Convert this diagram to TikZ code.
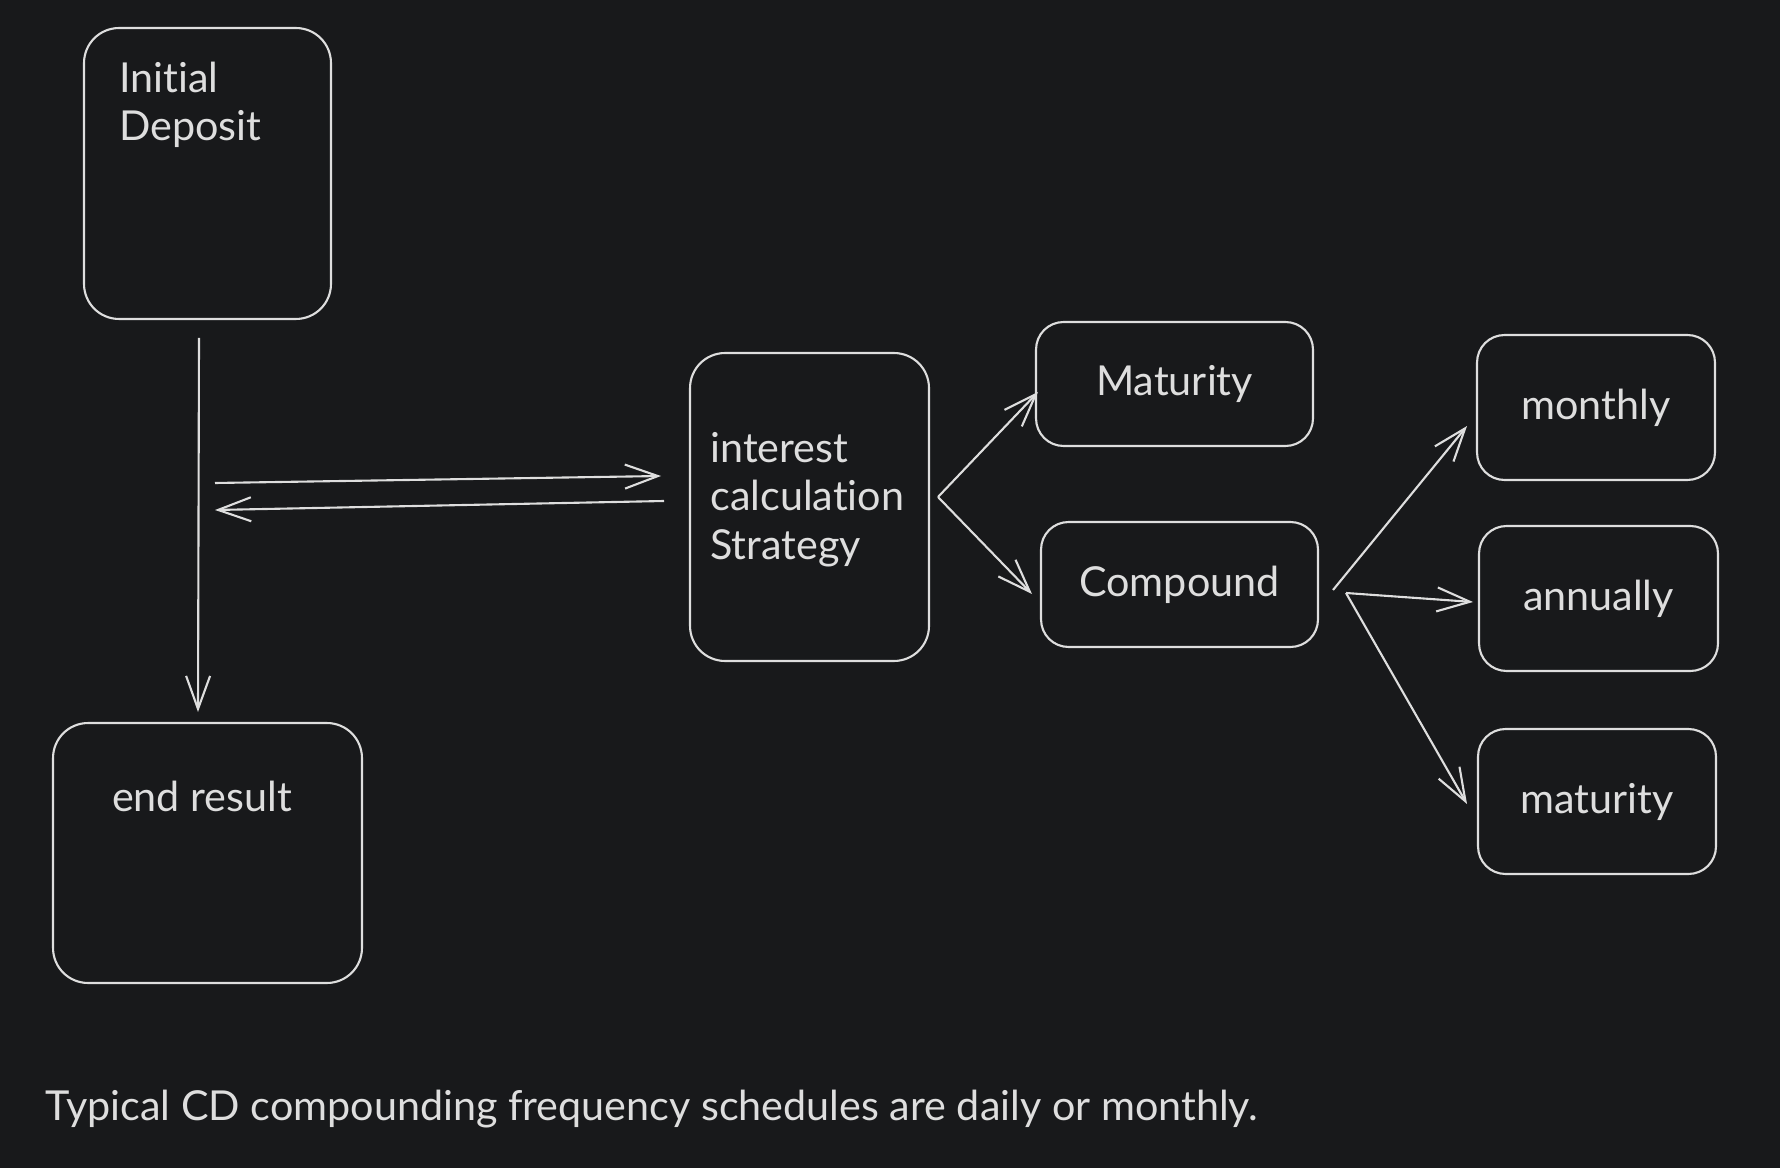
\documentclass[tikz,border=0pt]{standalone}
\usepackage{fontspec}
\setmainfont{Lato}[Ligatures=NoCommon]
\usetikzlibrary{arrows.meta,positioning,calc}
\definecolor{board}{HTML}{18191B}
\definecolor{ink}{HTML}{DEDEDE}

\begin{document}
\begin{tikzpicture}[x=0.02cm,y=-0.02cm,font=\fontsize{23.5}{27.5}\selectfont,
  box/.style={draw=ink,line width=1.2pt,rounded corners=0.55cm,inner sep=0pt,outer sep=0pt,text=ink},
  bigbox/.style={box,rounded corners=0.7cm},
  lbl/.style={text=ink,inner sep=0pt,align=left},
  arr/.style={draw=ink,line width=1.2pt,-{Straight Barb[length=0.66cm,width=0.48cm]}}]
\fill[board] (0,0) rectangle (1780,1168);
\useasboundingbox (0,0) rectangle (1780,1168);
% left column
\node[bigbox,minimum width=4.94cm,minimum height=5.82cm] (dep) at (207.5,173.5) {};
\node[lbl,anchor=base west] (depText) at (119,141) {Initial\\Deposit};
\node[bigbox,minimum width=6.18cm,minimum height=5.2cm] (res) at (207.5,853) {};
\node[lbl] (resText) at (202,796) {end result};
% strategy
\node[bigbox,minimum width=4.78cm,minimum height=6.16cm] (calc) at (809.5,507) {};
\node[lbl,anchor=base west] (calcText) at (710,559) {interest\\calculation\\Strategy};
% types
\node[box,minimum width=5.54cm,minimum height=2.48cm] (mat) at (1174.5,384) {Maturity};
\node[box,minimum width=5.54cm,minimum height=2.5cm] (comp) at (1179.5,584.5) {Compound};
% frequencies
\node[box,minimum width=4.76cm,minimum height=2.9cm] (mon) at (1596,407.5) {monthly};
\node[box,minimum width=4.78cm,minimum height=2.9cm] (ann) at (1598.5,598.5) {annually};
\node[box,minimum width=4.76cm,minimum height=2.9cm] (mty) at (1597,801.5) {maturity};
% note
\node[lbl,anchor=base west] (note) at (45,1120) {Typical CD compounding frequency schedules are daily or monthly.};
% connector ends
\coordinate (depOut) at (199,338);
\coordinate (resIn) at (198,712);
\coordinate (goOut) at (215,483);
\coordinate (goIn) at (661,476);
\coordinate (backOut) at (664,501);
\coordinate (backIn) at (215,510);
\coordinate (calcFan) at (938,497);
\coordinate (matIn) at (1038,392);
\coordinate (compIn) at (1032,594);
\coordinate (compFanA) at (1333,590);
\coordinate (compFanB) at (1346,593);
\coordinate (monIn) at (1467,426);
\coordinate (annIn) at (1473,602);
\coordinate (mtyIn) at (1467,804);
\draw[arr] (depOut) -- (resIn);
\draw[arr] (goOut) -- (goIn);
\draw[arr] (backOut) -- (backIn);
\draw[arr] (calcFan) -- (matIn);
\draw[arr] (calcFan) -- (compIn);
\draw[arr] (compFanA) -- (monIn);
\draw[arr] (compFanB) -- (annIn);
\draw[arr] (compFanB) -- (mtyIn);
\end{tikzpicture}
\end{document}
